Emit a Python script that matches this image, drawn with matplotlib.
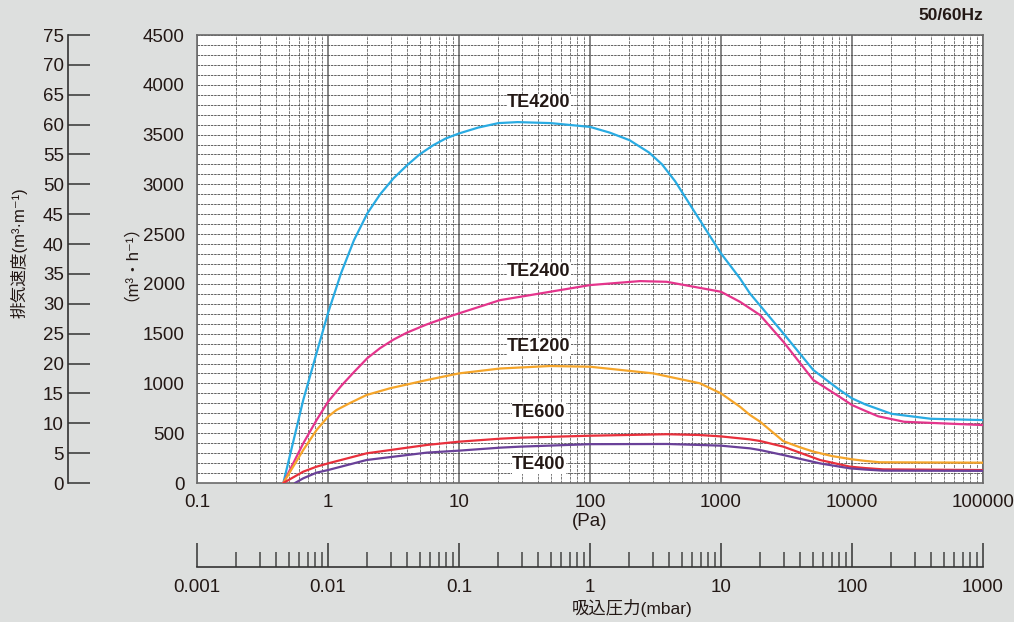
import matplotlib
matplotlib.use('Agg')
import matplotlib.pyplot as plt
import matplotlib.ticker as mticker

plt.rcParams['font.family'] = ['Liberation Sans', 'Noto Sans CJK JP', 'DejaVu Sans']

BG = '#dddfde'
INK = '#231815'

# values: suction pressure (Pa) -> pumping speed (m3/h)
te4200_p = [0.456, 0.647, 0.818, 1.0, 1.26, 1.58, 2.0, 2.5, 3.16, 4.0, 5.0, 6.3, 7.9, 10, 14, 20, 28,
            50, 100, 141, 200, 282, 355, 447, 631, 1000, 1396, 1663, 2992, 5070, 7943, 10000,
            12600, 20000, 40000, 100000]
te4200_q = [0, 833, 1305, 1707, 2110, 2440, 2710, 2900, 3060, 3190, 3300, 3390, 3460, 3511, 3570,
            3615, 3625, 3615, 3577, 3520, 3444, 3320, 3200, 3030, 2720, 2306, 2055, 1904, 1503,
            1134, 940, 850, 790, 695, 645, 632]

te2400_p = [0.456, 0.647, 0.818, 1.0, 1.26, 1.58, 2.0, 2.5, 3.16, 4.0, 5.6, 7.9, 10, 20.6, 29.2,
            100, 241, 385, 1000, 1396, 1663, 1986, 2992, 5070, 7943, 10000, 12600, 15850,
            25000, 100000]
te2400_q = [0, 398, 632, 816, 975, 1115, 1255, 1355, 1440, 1510, 1590, 1660, 1704, 1837, 1870,
            1988, 2028, 2021, 1921, 1820, 1754, 1687, 1419, 1034, 870, 783, 725, 670,
            615, 582]

te1200_p = [0.456, 0.647, 0.818, 1.0, 1.16, 1.47, 1.97, 2.97, 5.67, 10, 20.6, 49.5, 100, 304, 692,
            1000, 1396, 1663, 1986, 2992, 3981, 5070, 7079, 10000, 12600, 16370, 100000]
te1200_q = [0, 331, 532, 666, 733, 803, 884, 951, 1034, 1101, 1150, 1175, 1168, 1101, 1001,
            900, 766, 683, 616, 420, 360, 315, 270, 238, 222, 208, 204]

te600_p = [0.456, 0.647, 0.818, 1.0, 1.97, 5.67, 10, 20.6, 29.2, 100, 385, 692,
           1000, 1663, 1986, 2992, 5700, 9660, 12600, 17260, 100000]
te600_q = [0, 114, 164, 197, 298, 382, 415, 445, 455, 475, 490, 482,
           468, 438, 422, 365, 231, 164, 150, 137, 130]

te400_p = [0.56, 0.647, 0.818, 1.0, 1.97, 5.67, 10, 20.6, 29.2, 100, 385, 692,
           1000, 1663, 1986, 2992, 5700, 9660, 12600, 17260, 100000]
te400_q = [0, 47, 104, 130, 231, 305, 325, 355, 365, 390, 392, 382,
           375, 348, 331, 281, 197, 147, 135, 124, 122]

series = [
    ('TE4200', te4200_p, te4200_q, '#29abe2', 3818),
    ('TE2400', te2400_p, te2400_q, '#e4358c', 2121),
    ('TE1200', te1200_p, te1200_q, '#f5a52a', 1368),
    ('TE600', te600_p, te600_q, '#e8303c', 706),
    ('TE400', te400_p, te400_q, '#6a4199', 181),
]

pa_ticks = [0.1, 1, 10, 100, 1000, 10000, 100000]
pa_labels = ['0.1', '1', '10', '100', '1000', '10000', '100000']
mbar_ticks = [0.001, 0.01, 0.1, 1, 10, 100, 1000]
mbar_labels = ['0.001', '0.01', '0.1', '1', '10', '100', '1000']

W, H = 1014, 622
fig = plt.figure(figsize=(W / 100, H / 100), dpi=100, facecolor=BG)

L, R, T, B = 197, 983, 35, 483
ax = fig.add_axes([L / W, 1 - B / H, (R - L) / W, (B - T) / H])
ax.set_facecolor('white')
ax.set_xscale('log')
ax.set_xlim(0.1, 100000)
ax.set_ylim(0, 4500)

# grid
ax.set_yticks(range(0, 4501, 500))
ax.yaxis.set_minor_locator(mticker.MultipleLocator(100))
ax.set_xticks(pa_ticks)
ax.set_xticklabels(pa_labels)
ax.xaxis.set_minor_locator(mticker.LogLocator(base=10, subs=range(2, 10), numticks=20))
ax.xaxis.set_minor_formatter(mticker.NullFormatter())
ax.grid(which='both', axis='y', ls=(0, (3, 1)), color='#4a4a4a', lw=0.6)
ax.grid(which='minor', axis='x', ls=(0, (3, 1)), color='#777777', lw=0.7)
ax.grid(which='major', axis='x', ls='-', color='#707070', lw=1.2)
ax.set_axisbelow(True)
ax.tick_params(which='both', length=0, labelsize=13.5, labelcolor=INK)
ax.tick_params(axis='y', pad=9)
ax.tick_params(axis='x', pad=8)
for s in ax.spines.values():
    s.set_color('#6a6a6a')
    s.set_linewidth(1.2)

for name, p, q, col, ly in series:
    ax.plot(p, q, color=col, lw=1.6, solid_capstyle='round', solid_joinstyle='round', zorder=3)
    ax.text(40.8, ly, name, ha='center', va='center', fontsize=13, fontweight='bold',
            color=INK, zorder=4,
            bbox=dict(facecolor='white', edgecolor='none', pad=0.5))

# left scale in m3/min
axl = fig.add_axes([68 / W, 1 - B / H, 0.001, (B - T) / H])
axl.set_ylim(0, 75)
axl.set_yticks(range(0, 76, 5))
axl.set_xticks([])
axl.patch.set_visible(False)
for k in ['top', 'right', 'bottom']:
    axl.spines[k].set_visible(False)
axl.spines['left'].set_color('#333333')
axl.spines['left'].set_linewidth(1.2)
axl.tick_params(axis='y', direction='in', length=16, width=1.1, color='#333333',
                labelsize=13.5, labelcolor=INK, pad=3)

# bottom scale in mbar
axb = fig.add_axes([L / W, 1 - 567 / H, (R - L) / W, 0.001])
axb.set_xscale('log')
axb.set_xlim(0.001, 1000)
axb.set_xticks(mbar_ticks)
axb.set_xticklabels(mbar_labels)
axb.xaxis.set_minor_locator(mticker.LogLocator(base=10, subs=range(2, 10), numticks=20))
axb.xaxis.set_minor_formatter(mticker.NullFormatter())
axb.set_yticks([])
axb.patch.set_visible(False)
for k in ['top', 'right', 'left']:
    axb.spines[k].set_visible(False)
axb.spines['bottom'].set_color('#333333')
axb.spines['bottom'].set_linewidth(1.2)
axb.tick_params(axis='x', which='major', direction='in', length=17, width=1.1, color='#333333',
                labelsize=13.5, labelcolor=INK, pad=9)
axb.tick_params(axis='x', which='minor', direction='in', length=11, width=1.1, color='#444444')

# texts
fig.text(983 / W, 1 - 16 / H, '50/60Hz', ha='right', va='center', fontsize=12.5,
         fontweight='bold', color=INK)
fig.text(590 / W, 1 - 521 / H, '(Pa)', ha='center', va='center', fontsize=13.5, color=INK)
fig.text(632 / W, 1 - 608 / H, '吸込圧力(mbar)', ha='center', va='center', fontsize=12.5, color=INK)
fig.text(19 / W, 1 - 253 / H, '排気速度(m³·m⁻¹)', ha='center', va='center', rotation=90,
         fontsize=12, color=INK)
fig.text(122 / W, 1 - 255 / H, '（m³・h⁻¹）', ha='center', va='center', rotation=90,
         fontsize=12, color=INK)

fig.savefig('out.png', dpi=100, facecolor=BG)
